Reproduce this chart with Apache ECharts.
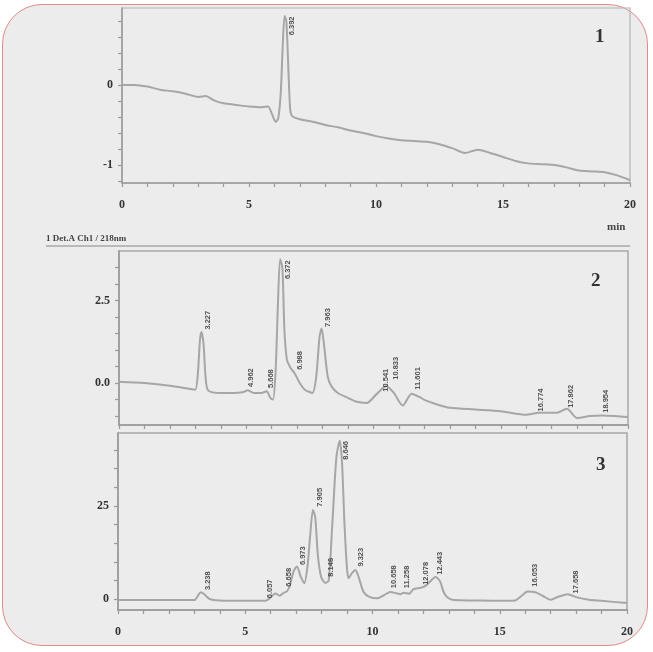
<!DOCTYPE html>
<html>
<head>
<meta charset="utf-8">
<script src="https://cdn.jsdelivr.net/npm/echarts@6/dist/echarts.min.js"></script>
<style>
html,body{margin:0;padding:0;background:#ffffff;}
#frame{position:absolute;left:2px;top:4px;width:646px;height:642px;border:1.5px solid #e08a8a;border-radius:40px;background:#ececec;box-sizing:border-box;}
#chart{position:absolute;left:0;top:0;width:653px;height:652px;filter:blur(0.35px);}
</style>
</head>
<body>
<div id="frame"></div>
<div id="chart"></div>
<script>
// ---- Panel 1 (standard) ----
const trace1 = [[0,0],[0.5,0.0],[1,-0.02],[1.5,-0.06],[2,-0.08],[2.5,-0.11],[3,-0.15],[3.3,-0.14],[3.6,-0.19],[4,-0.23],[4.5,-0.25],[5,-0.27],[5.5,-0.28],[5.75,-0.27],[5.9,-0.36],[6.05,-0.46],[6.15,-0.42],[6.25,-0.1],[6.33,0.5],[6.4,0.86],[6.47,0.8],[6.55,0.2],[6.62,-0.3],[6.7,-0.39],[7,-0.43],[7.5,-0.46],[8,-0.5],[8.5,-0.53],[9,-0.57],[9.5,-0.6],[10,-0.64],[10.5,-0.67],[11,-0.69],[11.5,-0.7],[12,-0.71],[12.5,-0.74],[13,-0.79],[13.5,-0.85],[14,-0.81],[14.5,-0.85],[15,-0.9],[15.5,-0.95],[16,-0.98],[16.5,-0.99],[17,-1.0],[17.5,-1.03],[18,-1.07],[18.5,-1.08],[19,-1.09],[19.5,-1.13],[20,-1.19]];
const peaks1 = [[6.68,0.62,'6.392']];
const yLabels1 = [0,-1];
const yTicks1 = [-1.2,-1.0,-0.8,-0.6,-0.4,-0.2,0,0.2,0.4,0.6,0.8];

// ---- Panel 2 ----
const trace2 = [[0,0.04],[1,0.0],[2,-0.08],[2.8,-0.18],[3.0,-0.2],[3.1,0.3],[3.18,1.3],[3.24,1.55],[3.32,1.2],[3.4,0.2],[3.5,-0.22],[4,-0.3],[4.5,-0.3],[4.9,-0.27],[5.05,-0.22],[5.3,-0.3],[5.6,-0.3],[5.8,-0.25],[5.95,-0.45],[6.05,-0.5],[6.15,0.3],[6.25,2.5],[6.33,3.75],[6.42,3.5],[6.5,1.6],[6.6,0.7],[6.75,0.45],[6.9,0.3],[7.1,0.0],[7.3,-0.2],[7.6,-0.3],[7.75,0.2],[7.88,1.4],[7.96,1.65],[8.05,1.2],[8.2,0.2],[8.35,-0.1],[8.6,-0.3],[9,-0.45],[9.3,-0.56],[9.74,-0.6],[10.1,-0.35],[10.5,-0.09],[10.8,-0.3],[11.15,-0.68],[11.5,-0.32],[11.8,-0.42],[12,-0.51],[12.5,-0.65],[13,-0.75],[14,-0.8],[15,-0.85],[16,-0.96],[16.5,-0.9],[17.2,-0.9],[17.6,-0.78],[18.0,-1.06],[18.5,-1.0],[19,-0.98],[19.5,-1.0],[20,-1.03]];
const peaks2 = [[3.5,1.62,'3.227'],[5.2,-0.12,'4.962'],[5.97,-0.15,'5.668'],[6.62,3.15,'6.372'],[7.12,0.4,'6.988'],[8.2,1.7,'7.963'],[10.47,-0.26,'10.541'],[10.9,0.1,'10.833'],[11.73,-0.2,'11.601'],[16.56,-0.86,'16.774'],[17.74,-0.75,'17.862'],[19.13,-0.9,'18.954']];
const yLabels2 = [0,2.5];
const yTicks2 = [-1.0,-0.5,0,0.5,1.0,1.5,2.0,2.5,3.0,3.5];

// ---- Panel 3 ----
const trace3 = [[0,-0.3],[2,-0.3],[3.0,-0.3],[3.15,1.0],[3.25,1.8],[3.4,1.2],[3.6,0.0],[4,-0.4],[5,-0.5],[5.8,-0.5],[6.0,0.4],[6.18,1.5],[6.35,0.9],[6.5,1.6],[6.64,2.1],[6.75,3.5],[6.9,7.5],[7.03,8.7],[7.18,6],[7.32,4.2],[7.45,9],[7.55,17],[7.66,23.9],[7.75,22],[7.85,12],[7.98,6],[8.15,4.3],[8.28,5],[8.42,20],[8.58,38],[8.71,42.5],[8.8,37],[8.9,20],[9.0,8],[9.06,5.6],[9.2,7],[9.33,7.8],[9.45,6],[9.65,1.9],[9.9,0.5],[10.18,0.2],[10.45,1.0],[10.7,1.9],[10.95,1.5],[11.1,1.3],[11.23,1.7],[11.45,1.4],[11.6,2.6],[11.9,3.0],[12.1,3.6],[12.25,4.6],[12.48,5.9],[12.65,4.8],[12.8,1.8],[12.95,0.4],[13.2,-0.3],[14,-0.4],[15,-0.5],[15.6,-0.4],[15.85,0.8],[16.1,2.0],[16.4,1.8],[16.7,0.8],[17.0,-0.2],[17.3,0.6],[17.67,1.3],[18,0.5],[18.5,-0.2],[19,-0.5],[20,-1.1]];
const peaks3 = [[3.55,2.4,'3.238'],[5.96,0.2,'6.057'],[6.71,3.3,'6.658'],[7.27,9.1,'6.973'],[7.95,24.8,'7.905'],[8.35,6.0,'8.148'],[8.96,37.4,'8.646'],[9.53,8.7,'9.323'],[10.84,2.9,'10.658'],[11.34,2.9,'11.258'],[12.09,3.8,'12.078'],[12.65,6.5,'12.443'],[16.4,3.3,'16.053'],[18.0,1.5,'17.658']];
const yLabels3 = [0,25];
const yTicks3 = [0,5,10,15,20,25,30,35,40];

// ---- shared x axis ----
const xLabels = [0,5,10,15,20];
const xTicks = [0,1,2,3,4,5,6,7,8,9,10,11,12,13,14,15,16,17,18,19,20];

const axisColor = '#9a9a9a';
const traceColor = '#a6a6a6';
const textColor = '#333333';
const serif = "'Liberation Serif','DejaVu Serif',serif";

function xAxisCfg(grid, showLabels){
  return {
    type:'value', gridIndex:grid, min:0, max:20,
    axisLine:{show:true, onZero:false, lineStyle:{color:axisColor, width:1.5}},
    axisTick:{show:true, customValues:xTicks, length:4, lineStyle:{color:axisColor, width:1.2}},
    axisLabel:{show:showLabels, customValues:xLabels, color:textColor, fontFamily:serif, fontWeight:'bold', fontSize:12, margin:16},
    splitLine:{show:false}
  };
}
function yAxisCfg(grid, min, max, labels, ticks, fmt){
  return {
    type:'value', gridIndex:grid, min:min, max:max,
    axisLine:{show:true, onZero:false, lineStyle:{color:axisColor, width:1.5}},
    axisTick:{show:true, customValues:ticks, length:4, lineStyle:{color:axisColor, width:1.2}},
    axisLabel:{customValues:labels, formatter:fmt, color:textColor, fontFamily:serif, fontWeight:'bold', fontSize:12, margin:9},
    splitLine:{show:false}
  };
}
function traceSeries(idx, data){
  return {type:'line', xAxisIndex:idx, yAxisIndex:idx, data:data, showSymbol:false, smooth:0.25,
    lineStyle:{color:traceColor, width:2}, silent:true, animation:false, z:2};
}
function labelSeries(idx, data){
  return {type:'scatter', xAxisIndex:idx, yAxisIndex:idx, data:data, symbolSize:0, silent:true, animation:false, z:3,
    label:{show:true, position:'inside', rotate:90, align:'left', verticalAlign:'middle',
      formatter:p=>p.value[2], color:'#2a2a2a', fontSize:7.5, fontWeight:'bold', fontFamily:"'Liberation Sans','DejaVu Sans',sans-serif"}};
}

const chart = echarts.init(document.getElementById('chart'), null, {renderer:'canvas'});
chart.setOption({
  backgroundColor:'transparent',
  animation:false,
  grid:[
    {left:122, right:23, top:8, height:175, show:true, borderColor:'#b4b4b4', borderWidth:1.2, backgroundColor:'transparent'},
    {left:119, right:25, top:251, height:174, show:true, borderColor:'#a8a8a8', borderWidth:1.5, backgroundColor:'transparent'},
    {left:118, right:26, top:433, height:177, show:true, borderColor:'#a8a8a8', borderWidth:1.5, backgroundColor:'transparent'}
  ],
  xAxis:[xAxisCfg(0,true), xAxisCfg(1,false), xAxisCfg(2,true)],
  yAxis:[
    yAxisCfg(0,-1.225,0.96,yLabels1,yTicks1,v=>String(v)),
    yAxisCfg(1,-1.27,4.0,yLabels2,yTicks2,v=>v.toFixed(1)),
    yAxisCfg(2,-2.96,44.6,yLabels3,yTicks3,v=>String(v))
  ],
  series:[
    traceSeries(0,trace1), labelSeries(0,peaks1),
    traceSeries(1,trace2), labelSeries(1,peaks2),
    traceSeries(2,trace3), labelSeries(2,peaks3)
  ],
  graphic:[
    {type:'text', left:595, top:28, style:{text:'1', font:"bold 19px 'Liberation Serif', serif", fill:'#333'}},
    {type:'text', left:591, top:272, style:{text:'2', font:"bold 19px 'Liberation Serif', serif", fill:'#333'}},
    {type:'text', left:596, top:456, style:{text:'3', font:"bold 19px 'Liberation Serif', serif", fill:'#333'}},
    {type:'text', left:607, top:222, style:{text:'min', font:"bold 11px 'Liberation Serif', serif", fill:'#444'}},
    {type:'text', left:46, top:234, style:{text:'1 Det.A Ch1 / 218nm', font:"bold 9px 'Liberation Serif', serif", fill:'#444'}},
    {type:'line', shape:{x1:46, y1:246, x2:630, y2:246}, style:{stroke:'#a8a8a8', lineWidth:1.5}}
  ]
});
</script>
</body>
</html>
